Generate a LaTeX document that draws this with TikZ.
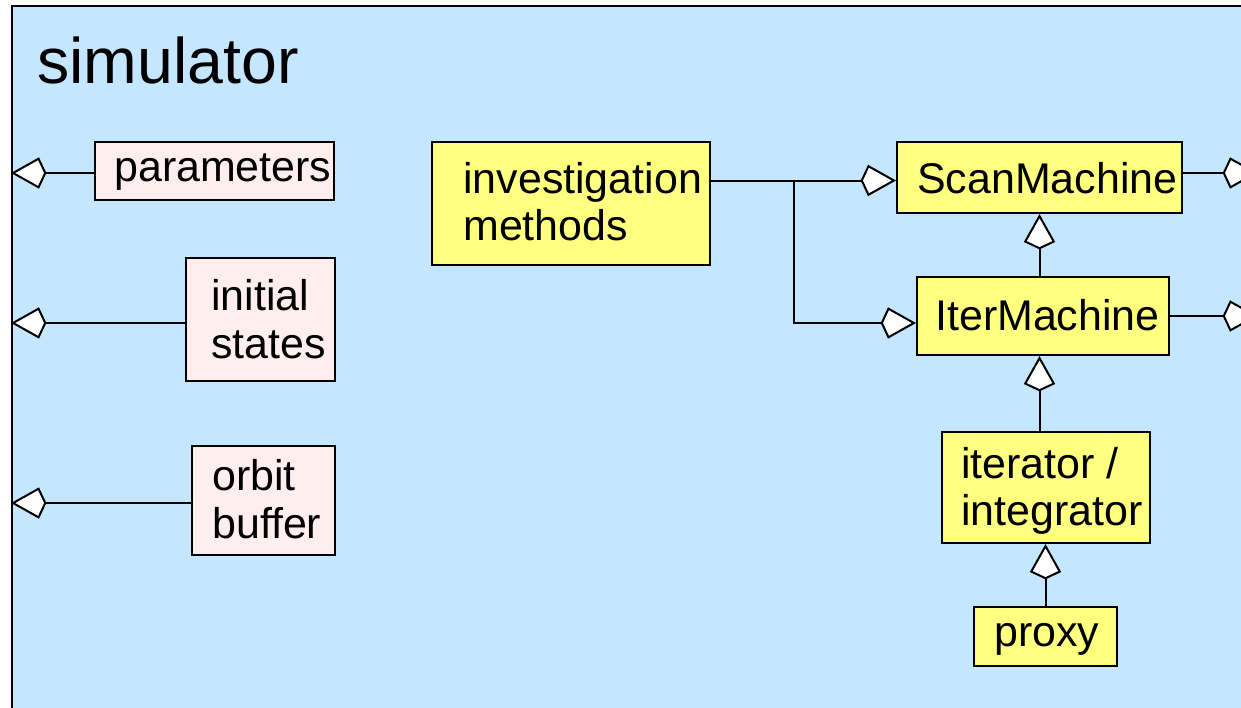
\documentclass[tikz,border=0pt]{standalone}
\usepackage{fontspec}
\setmainfont{Liberation Sans}
\usetikzlibrary{arrows.meta,fit,calc}
\definecolor{simblue}{RGB}{196,230,255}
\definecolor{boxyellow}{RGB}{255,255,128}
\definecolor{boxpink}{RGB}{255,238,238}
\tikzset{
  frame/.style={draw=black, fill=simblue, line width=1.5pt, inner sep=0pt},
  ybox/.style={draw=black, fill=boxyellow, line width=1.5pt, inner sep=0pt},
  pbox/.style={draw=black, fill=boxpink, line width=1.5pt, inner sep=0pt},
  txt/.style={anchor=base west, inner sep=0pt, font=\fontsize{32.2pt}{36pt}\selectfont},
  agg/.style={line width=1.5pt, -{Kite[fill=white, length=26.5pt, width=23.5pt, inset=5.5pt]}},
}
\begin{document}
\begin{tikzpicture}[x=0.75pt, y=-0.75pt]
\useasboundingbox (0,0) rectangle (1241,707);
\fill[white] (0,0) rectangle (1241,707);
\node[frame, fit={(12,6)(1257,800)}] (sim) {};
\node[anchor=base west, inner sep=0pt, font=\fontsize{48.3pt}{56pt}\selectfont] (title) at (37,83) {simulator};

% boxes
\node[pbox, fit={(95,142)(334,200)}] (par) {};
\node[pbox, fit={(186,258)(335,381)}] (ini) {};
\node[pbox, fit={(192,446)(335,555)}] (orb) {};
\node[ybox, fit={(432,142)(710,265)}] (inv) {};
\node[ybox, fit={(897,142)(1182,213)}] (scan) {};
\node[ybox, fit={(917,277)(1169,355)}] (iter) {};
\node[ybox, fit={(942,432)(1150,543)}] (itr) {};
\node[ybox, fit={(974,607)(1117,666)}] (prx) {};

% texts
\node[txt] (tpar) at (114,181) {parameters};
\node[txt] (tini1) at (211,310) {initial};
\node[txt] (tini2) at (211,358) {states};
\node[txt] (torb1) at (212,490) {orbit};
\node[txt] (torb2) at (212,538) {buffer};
\node[txt] (tinv1) at (463,193) {investigation};
\node[txt] (tinv2) at (463,240) {methods};
\node[txt] (tscan) at (917,193) {ScanMachine};
\node[txt] (titer) at (935,330) {IterMachine};
\node[txt] (titr1) at (961,478) {iterator /};
\node[txt] (titr2) at (961,525) {integrator};
\node[txt] (tprx) at (994,646) {proxy};

% connectors
\draw[agg] ([yshift=-1.5pt]par.west) -- ([yshift=-1.5pt]par.west -| sim.west);
\draw[agg] ([yshift=-2.6pt]ini.west) -- ([yshift=-2.6pt]ini.west -| sim.west);
\draw[agg] ([yshift=-1.9pt]orb.west) -- ([yshift=-1.9pt]orb.west -| sim.west);

\coordinate (s1) at ([yshift=-2.25pt]scan.west);
\coordinate (j) at (794,180);
\draw[agg] (inv.east |- s1) -- (s1);
\draw[agg] (j) |- ([yshift=-5.25pt]iter.west);

\draw[agg] ([yshift=3.4pt]scan.east) -- ([yshift=3.4pt]scan.east -| sim.east);
\draw[agg] (iter.east) -- (iter.east -| sim.east);

\draw[agg] (iter.north -| scan.south) -- (scan.south);
\draw[agg] (itr.north -| scan.south) -- (iter.south -| scan.south);
\draw[agg] (prx.north) -- (prx.north |- itr.south);
\end{tikzpicture}
\end{document}
